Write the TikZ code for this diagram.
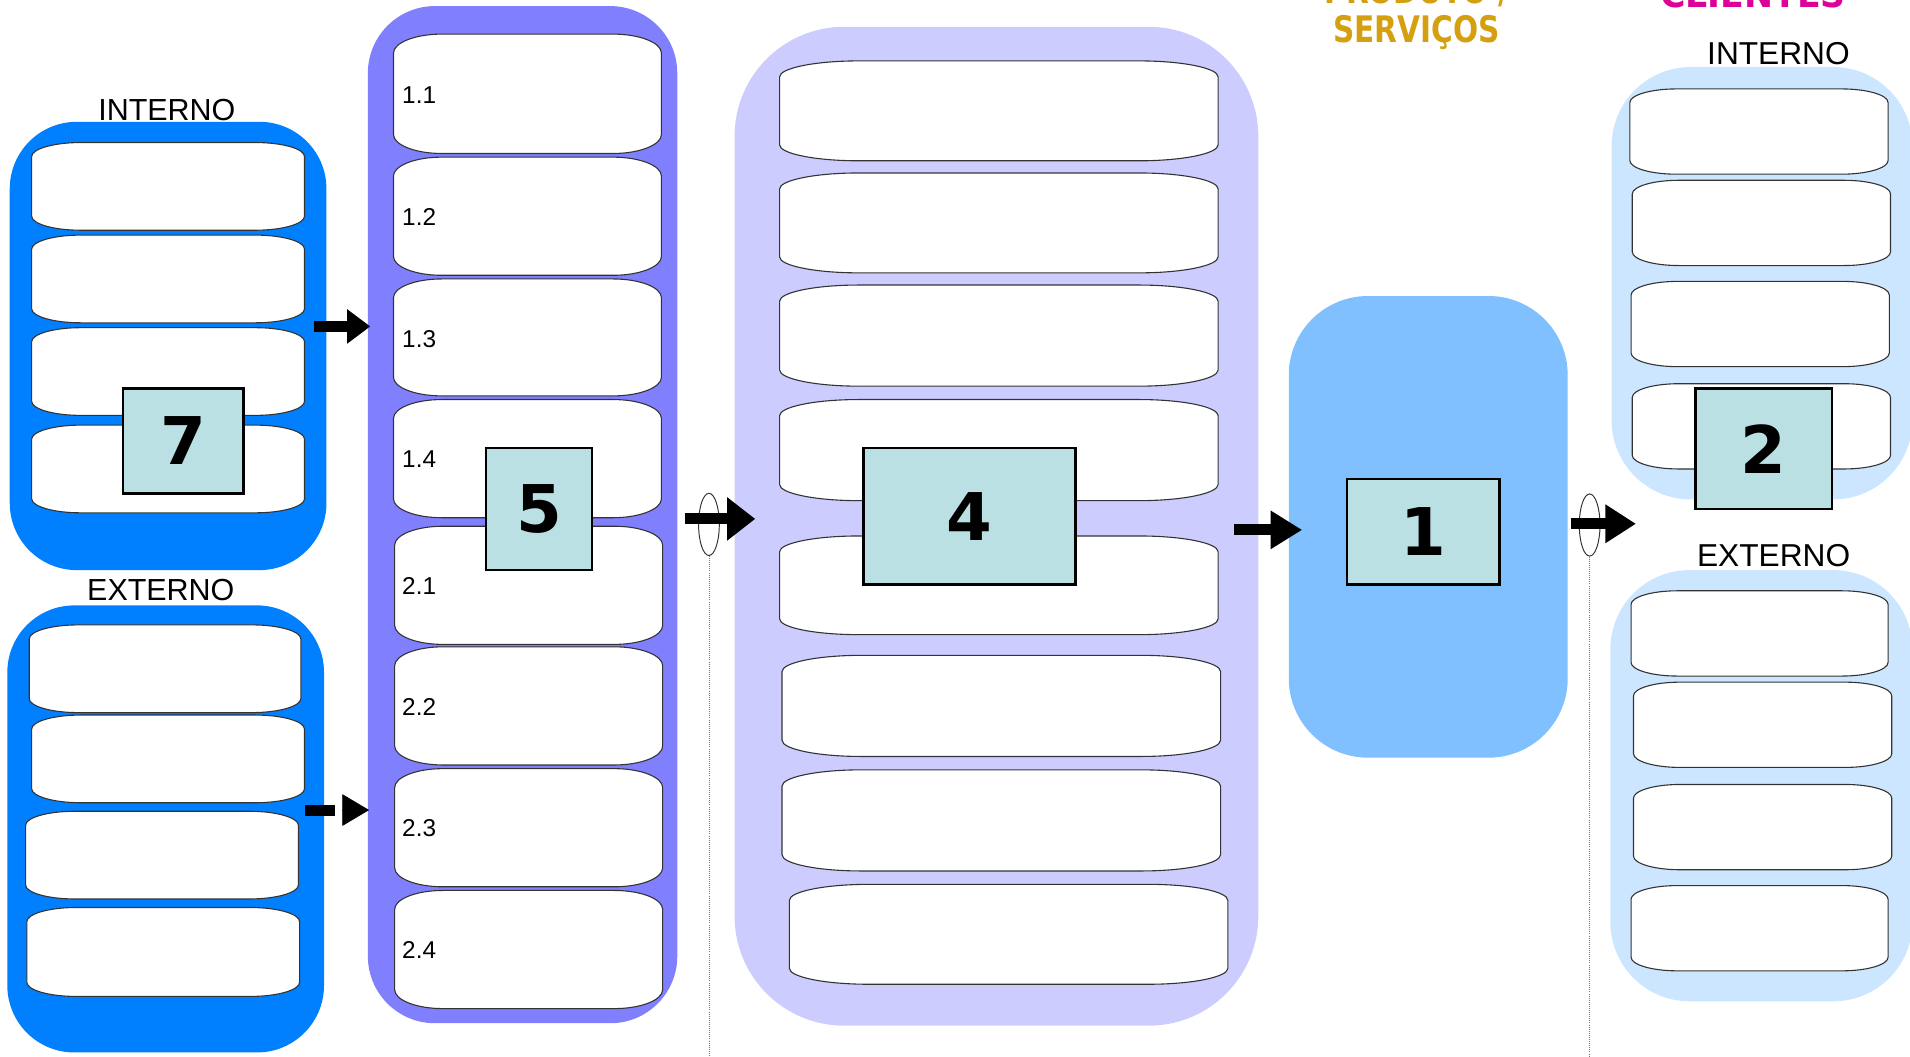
\documentclass[tikz,border=0pt]{standalone}
\usepackage{fontspec}
\setmainfont{Liberation Sans}
\newfontfamily\headfont{DejaVu Sans}
\usetikzlibrary{arrows.meta,shapes.geometric}

\definecolor{deepblue}{HTML}{0080FF}
\definecolor{violetfill}{HTML}{8080FF}
\definecolor{lilac}{HTML}{CCCCFF}
\definecolor{skyblue}{HTML}{80C0FF}
\definecolor{paleblue}{HTML}{CCE6FF}
\definecolor{tagfill}{HTML}{BAE0E3}
\definecolor{goldtext}{HTML}{D4A010}
\definecolor{pinktext}{HTML}{DD0099}

% white slot with elliptical corners: name, x1, y1, x2, y2
\newcommand\slot[5]{%
  \pgfmathsetmacro\slRx{0.18*(#4-#2)}%
  \pgfmathsetmacro\slRy{0.16*(#5-#3)}%
  \pgfmathsetmacro\slKx{0.45*\slRx}%
  \pgfmathsetmacro\slKy{0.45*\slRy}%
  \draw[slotline] (#2,#3+\slRy) .. controls (#2,#3+\slKy) and (#2+\slKx,#3) .. (#2+\slRx,#3)
    -- (#4-\slRx,#3) .. controls (#4-\slKx,#3) and (#4,#3+\slKy) .. (#4,#3+\slRy)
    -- (#4,#5-\slRy) .. controls (#4,#5-\slKy) and (#4-\slKx,#5) .. (#4-\slRx,#5)
    -- (#2+\slRx,#5) .. controls (#2+\slKx,#5) and (#2,#5-\slKy) .. (#2,#5-\slRy) -- cycle;
  \coordinate (#1) at ({(#2+#4)/2},{(#3+#5)/2});%
}

\tikzset{
  panel/.style={rectangle, draw=none, inner sep=0pt},
  slotline/.style={draw=black!80, line width=0.9pt, fill=white},
  tag/.style={rectangle, draw=black, line width=2pt, fill=tagfill, inner sep=0pt,
    font=\headfont\bfseries\fontsize{54}{54}\selectfont},
  sidelabel/.style={inner sep=0pt, font=\fontsize{25}{25}\selectfont},
  sidelabelR/.style={inner sep=0pt, font=\fontsize{26}{26}\selectfont},
  idx/.style={inner sep=0pt, anchor=west, font=\fontsize{20}{20}\selectfont},
  heading/.style={inner sep=0pt, anchor=base, font=\headfont\bfseries\fontsize{30}{30}\selectfont},
  shaft/.style={line width=9pt},
  gate/.style={ellipse, draw=black!80, line width=0.8pt, fill=white,
    minimum width=17pt, minimum height=51pt, inner sep=0pt},
  guide/.style={draw=black!55, line width=0.7pt, densely dotted},
}

\begin{document}
\begin{tikzpicture}[x=1pt, y=-1pt]
\useasboundingbox (0,0) rectangle (1568,867);

% ---------- headings ----------
\node[heading, text=goldtext] (prodA) at (1163,3) {\scalebox{0.81}[1]{PRODUTO /}};
\node[heading, text=goldtext] (prodB) at (1163,35) {\scalebox{0.81}[1]{SERVIÇOS}};
\node[heading, text=pinktext] (cli) at (1439,6) {\scalebox{0.95}[1]{CLIENTES}};

% ---------- suppliers (left) ----------
\node[sidelabel] (lblIntL) at (137,90) {INTERNO};
\node[panel, fill=deepblue, rounded corners=55pt, minimum width=260pt, minimum height=368pt] (supInt) at (138,284) {};
\slot{si1}{26}{117}{250}{189}
\slot{si2}{26}{193}{250}{265}
\slot{si3}{26}{269}{250}{341}
\slot{si4}{26}{349}{250}{421}
\node[tag, minimum width=99pt, minimum height=86pt] (t7) at (150.5,362) {7};

\node[sidelabel] (lblExtL) at (132,484) {EXTERNO};
\node[panel, fill=deepblue, rounded corners=55pt, minimum width=260pt, minimum height=367pt] (supExt) at (136,680.5) {};
\slot{se1}{24}{513}{247}{585}
\slot{se2}{26}{587}{250}{659}
\slot{se3}{21}{666}{245}{738}
\slot{se4}{22}{745}{246}{818}

% ---------- inputs (5) ----------
\node[panel, fill=violetfill, rounded corners=55pt, minimum width=254pt, minimum height=835pt] (inputs) at (429,422.5) {};
\slot{in11}{323}{28}{543}{126}
\slot{in12}{323}{129}{543}{226}
\slot{in13}{323}{229}{543}{325}
\slot{in14}{323}{328}{543}{425}
\slot{in21}{324}{432}{544}{529}
\slot{in22}{324}{531}{544}{628}
\slot{in23}{324}{631}{544}{728}
\slot{in24}{324}{731}{544}{828}
\node[idx] (n11) at (330,78) {1.1};
\node[idx] (n12) at (330,178) {1.2};
\node[idx] (n13) at (330,278) {1.3};
\node[idx] (n14) at (330,377) {1.4};
\node[idx] (n21) at (330,481) {2.1};
\node[idx] (n22) at (330,580) {2.2};
\node[idx] (n23) at (330,680) {2.3};
\node[idx] (n24) at (330,780) {2.4};
\node[tag, minimum width=87pt, minimum height=100pt] (t5) at (442.5,418) {5};

% ---------- process (4) ----------
\node[panel, fill=lilac, rounded corners=90pt, minimum width=430pt, minimum height=820pt] (proc) at (818,432) {};
\slot{pr1}{640}{50}{1000}{132}
\slot{pr2}{640}{142}{1000}{224}
\slot{pr3}{640}{234}{1000}{317}
\slot{pr4}{640}{328}{1000}{411}
\slot{pr5}{640}{440}{1000}{521}
\slot{pr6}{642}{538}{1002}{621}
\slot{pr7}{642}{632}{1002}{715}
\slot{pr8}{648}{726}{1008}{808}
\node[tag, minimum width=174pt, minimum height=112pt] (t4) at (796,424) {4};

% ---------- product (1) ----------
\node[panel, fill=skyblue, rounded corners=65pt, minimum width=229pt, minimum height=379pt] (prod) at (1172.5,432.5) {};
\node[tag, minimum width=125pt, minimum height=87pt] (t1) at (1168.5,436.5) {1};

% ---------- customers (right) ----------
\node[sidelabelR] (lblIntR) at (1460,44) {INTERNO};
\node[panel, fill=paleblue, rounded corners=65pt, minimum width=247pt, minimum height=355pt] (cliInt) at (1446.5,232.5) {};
\slot{ci1}{1338}{73}{1550}{143}
\slot{ci2}{1340}{148}{1552}{218}
\slot{ci3}{1339}{231}{1551}{301}
\slot{ci4}{1340}{315}{1552}{385}
\node[tag, minimum width=112pt, minimum height=99pt] (t2) at (1448,368.5) {2};

\node[sidelabelR] (lblExtR) at (1456,456) {EXTERNO};
\node[panel, fill=paleblue, rounded corners=65pt, minimum width=248pt, minimum height=354pt] (cliExt) at (1446,645) {};
\slot{ce1}{1339}{485}{1550}{555}
\slot{ce2}{1341}{560}{1553}{630}
\slot{ce3}{1341}{644}{1553}{714}
\slot{ce4}{1339}{727}{1550}{797}

% ---------- gates and guide lines ----------
\node[gate] (g1) at (582,430.5) {};
\node[gate] (g2) at (1305,431) {};
\coordinate (g1foot) at (582,867);
\coordinate (g2foot) at (1305,867);
\draw[guide] (g1.south) -- (g1foot);
\draw[guide] (g2.south) -- (g2foot);

% ---------- flow arrows ----------
\coordinate (a1s) at (258,268);  \coordinate (a1e) at (304,268);
\draw[shaft, -{Triangle[length=19pt,width=27pt]}] (a1s) -- (a1e);

\coordinate (a2s) at (250,665);  \coordinate (a2m) at (275,665);
\coordinate (a2h) at (281,665);  \coordinate (a2e) at (303,665);
\draw[shaft] (a2s) -- (a2m);
\draw[line width=0.5pt, -{Triangle[length=22pt,width=26pt]}] (a2h) -- (a2e);

\coordinate (a3s) at (562,426);  \coordinate (a3e) at (620,426);
\draw[shaft, -{Triangle[length=23pt,width=34pt]}] (a3s) -- (a3e);

\coordinate (a4s) at (1013,435); \coordinate (a4e) at (1069,435);
\draw[shaft, -{Triangle[length=26pt,width=30pt]}] (a4s) -- (a4e);

\coordinate (a5s) at (1290,430); \coordinate (a5e) at (1343,430);
\draw[shaft, -{Triangle[length=25pt,width=30pt]}] (a5s) -- (a5e);
\end{tikzpicture}
\end{document}
